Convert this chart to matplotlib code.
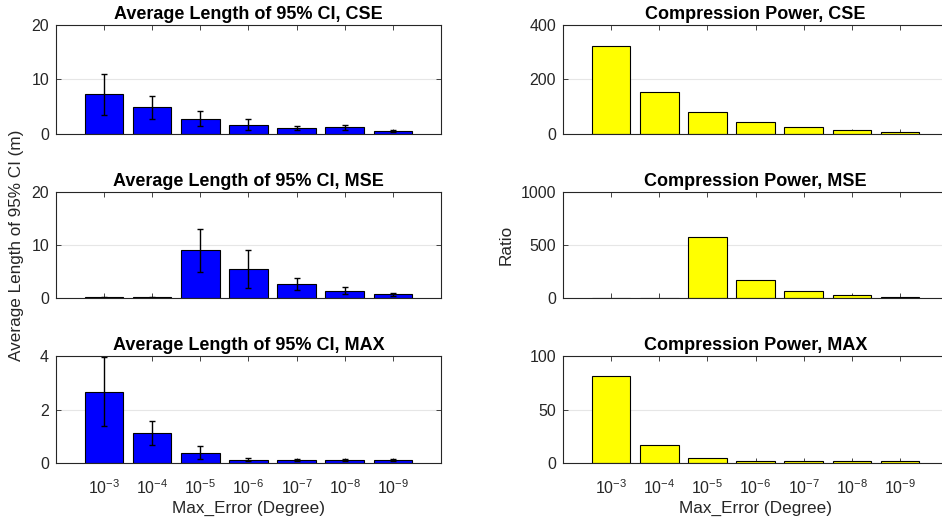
import numpy as np
import matplotlib
matplotlib.use('Agg')
import matplotlib.pyplot as plt

plt.rcParams['font.family'] = ['Liberation Sans', 'DejaVu Sans']
plt.rcParams['mathtext.fontset'] = 'custom'
plt.rcParams['mathtext.rm'] = 'Liberation Sans'
plt.rcParams['mathtext.it'] = 'Liberation Sans'

# x categories
err_labels = ['$10^{-3}$', '$10^{-4}$', '$10^{-5}$', '$10^{-6}$', '$10^{-7}$', '$10^{-8}$', '$10^{-9}$']

# average length of 95% CI (m) and half-widths of the error bars
ci_cse = [7.3, 4.9, 2.8, 1.7, 1.1, 1.2, 0.6]
ci_cse_err = [3.8, 2.15, 1.35, 1.0, 0.4, 0.45, 0.2]
ci_mse = [0.1, 0.1, 9.0, 5.45, 2.6, 1.4, 0.7]
ci_mse_err = [0.05, 0.05, 4.0, 3.6, 1.15, 0.7, 0.3]
ci_max = [2.67, 1.12, 0.39, 0.13, 0.12, 0.12, 0.10]
ci_max_err = [1.30, 0.46, 0.24, 0.04, 0.04, 0.03, 0.04]

# compression power (ratio)
cp_cse = [324, 153, 80, 43, 24.5, 13.5, 7]
cp_mse = [1, 1, 579, 174, 62, 24, 10]
cp_max = [81, 16.5, 4.7, 2.0, 2.0, 2.0, 1.8]

left_data = [('Average Length of 95% CI, CSE', ci_cse, ci_cse_err, [0, 10, 20]),
             ('Average Length of 95% CI, MSE', ci_mse, ci_mse_err, [0, 10, 20]),
             ('Average Length of 95% CI, MAX', ci_max, ci_max_err, [0, 2, 4])]
right_data = [('Compression Power, CSE', cp_cse, [0, 200, 400]),
              ('Compression Power, MSE', cp_mse, [0, 500, 1000]),
              ('Compression Power, MAX', cp_max, [0, 50, 100])]

fig = plt.figure(figsize=(9.42, 5.23), dpi=100)
rows = [(0.7438, 0.2084), (0.4302, 0.2027), (0.1147, 0.2046)]
lefts = [0.0594, 0.5977]
width = 0.4087
x = np.arange(1, 8)
gray = '#262626'


def style(ax, yticks, bottom):
    ax.set_xlim(0, 8)
    ax.set_ylim(yticks[0], yticks[-1])
    ax.set_yticks(yticks)
    ax.set_xticks(x)
    if bottom:
        ax.set_xticklabels(err_labels)
        ax.set_xlabel('Max_Error (Degree)', fontsize=12.3, color=gray, labelpad=3)
    else:
        ax.set_xticklabels([])
    ax.tick_params(direction='in', top=True, right=True, length=3.5, width=0.6,
                   colors=gray, labelsize=11.5)
    ax.tick_params(axis='x', pad=11)
    ax.tick_params(axis='y', pad=5)
    for s in ax.spines.values():
        s.set_color(gray)
        s.set_linewidth(0.8)
    ax.yaxis.grid(True, color='#e6e6e6', linewidth=0.8)
    ax.set_axisbelow(True)


for i, (title, vals, errs, yt) in enumerate(left_data):
    ax = fig.add_axes([lefts[0], rows[i][0], width, rows[i][1]])
    ax.bar(x, vals, width=0.8, color='#0000ff', edgecolor='black', linewidth=0.8)
    ax.errorbar(x, vals, yerr=errs, fmt='none', ecolor='black', elinewidth=1, capsize=2.5)
    ax.set_title(title, fontsize=13, fontweight='bold', pad=4)
    style(ax, yt, i == 2)
    if i == 1:
        ax.set_ylabel('Average Length of 95% CI (m)', fontsize=12.3, color=gray, labelpad=5)

for i, (title, vals, yt) in enumerate(right_data):
    ax = fig.add_axes([lefts[1], rows[i][0], width, rows[i][1]])
    ax.bar(x, vals, width=0.8, color='#ffff00', edgecolor='black', linewidth=0.8)
    ax.set_title(title, fontsize=13, fontweight='bold', pad=4)
    style(ax, yt, i == 2)
    if i == 1:
        ax.set_ylabel('Ratio', fontsize=12.3, color=gray, labelpad=5)

fig.savefig('out.png', dpi=100)
